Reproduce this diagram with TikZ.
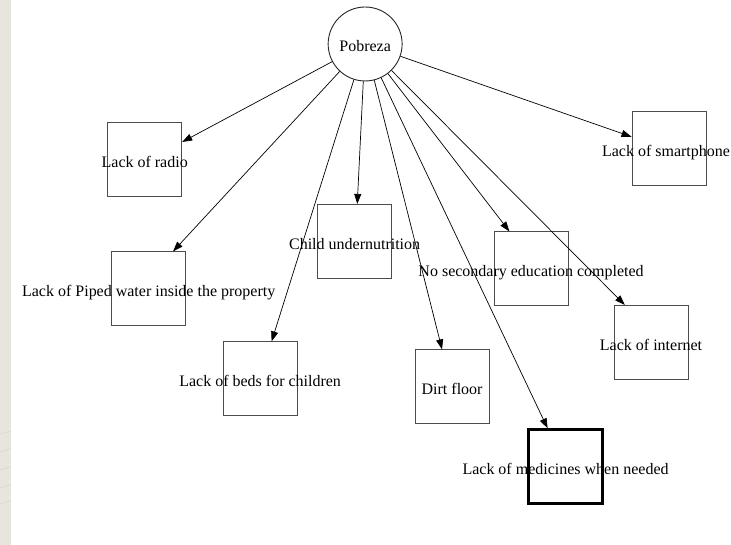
\documentclass[tikz,border=0pt]{standalone}
\usepackage{fontspec}
\setmainfont{Liberation Serif}
\usetikzlibrary{arrows.meta}
\definecolor{sidestrip}{HTML}{E7E5DE}
\definecolor{stripline}{HTML}{D6D3CA}
% centred label that may run past the sides of its box; baseline a little below the centre
\newcommand{\boxtext}[2][0bp]{\makebox[0pt]{\hspace*{#1}\raisebox{-8bp}[0pt][0pt]{#2}}}
\begin{document}
\begin{tikzpicture}[x=1bp,y=-1bp,
  every node/.style={font=\fontsize{16bp}{19bp}\selectfont},
  hub/.style={circle,draw=black!85,line width=0.9bp,minimum size=74bp,inner sep=0pt},
  itembox/.style={rectangle,draw=black!70,line width=1bp,minimum size=74bp,inner sep=0pt},
  heavybox/.style={itembox,draw=black,line width=3bp},
  link/.style={draw=black,line width=0.7bp,-{Triangle[length=10bp,width=7bp]}}]
  % canvas and the shaded strip on the left edge
  \fill[white] (0,0) rectangle (731,545);
  \fill[sidestrip] (0,0) rectangle (11,545);
  \foreach \yy in {431,449,467,485,501}
    \draw[stripline,line width=0.5bp] (0,\yy+3) -- (11,\yy);
  \useasboundingbox (0,0) rectangle (731,545);

  % central node
  \node[hub] (pob) at (365,44) {\boxtext{Pobreza}};

  % indicator boxes
  \node[itembox] (radio)  at (144.5,159.5) {\boxtext{Lack of radio}};
  \node[itembox] (smart)  at (669,149)     {\boxtext[-6bp]{Lack of smartphone}};
  \node[itembox] (child)  at (354.5,241.5) {\boxtext{Child undernutrition}};
  \node[itembox] (piped)  at (148.5,289)   {\boxtext{Lack of Piped water inside the property}};
  \node[itembox] (second) at (531,269)     {\boxtext{No secondary education completed}};
  \node[itembox] (inet)   at (651,342.5)   {\boxtext{Lack of internet}};
  \node[itembox] (beds)   at (260,379)     {\boxtext{Lack of beds for children}};
  \node[itembox] (dirt)   at (452,387)     {\boxtext{Dirt floor}};
  \node[heavybox] (meds)  at (565.5,467)   {\boxtext{Lack of medicines when needed}};

  % edges from the centre to each indicator
  \draw[link] (pob) -- (radio.25.6);
  \draw[link] (pob) -- (smart.162);
  \draw[link] (pob) -- (child.86.2);
  \draw[link] (pob) -- (piped.57.6);
  \draw[link] (pob) -- (second.120.7);
  \draw[link] (pob) -- (inet.125.5);
  \draw[link] (pob) -- (beds.73.4);
  \draw[link] (pob) -- (dirt.105.1);
  \draw[link] (pob) -- (meds.115.3);
\end{tikzpicture}
\end{document}
